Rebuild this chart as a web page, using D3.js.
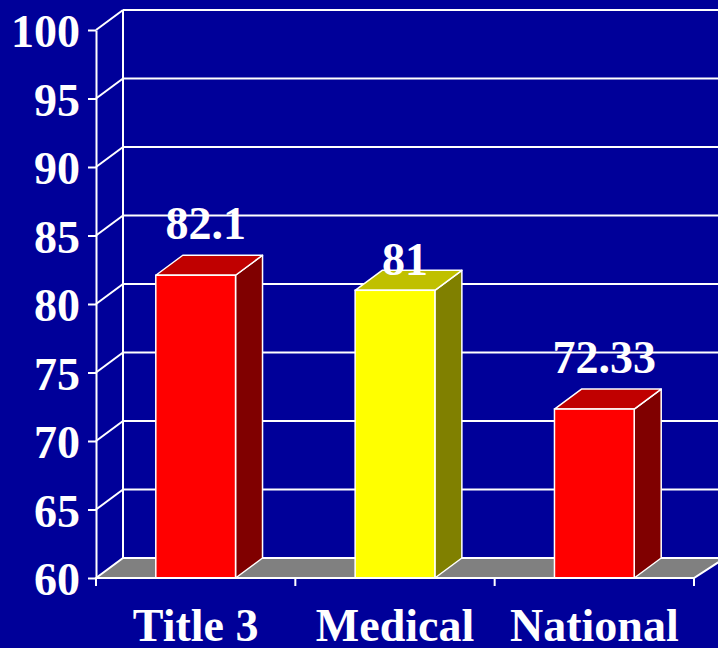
<!DOCTYPE html>
<html>
<head>
<meta charset="utf-8">
<script src="https://d3js.org/d3.v7.min.js"></script>
<style>
  body { margin: 0; background: #000099; }
  svg { display: block; }
</style>
</head>
<body>
<div id="chart"></div>
<script>
// data
var categories = ["Title 3", "Medical", "National"];
var values = [82.1, 81, 72.33];
var valueLabels = ["82.1", "81", "72.33"];
var yTicks = [60, 65, 70, 75, 80, 85, 90, 95, 100];
var barColors = ["#ff0000", "#ffff00", "#ff0000"];
var topColors = ["#c00000", "#c0c000", "#c00000"];
var sideColors = ["#800000", "#808000", "#800000"];

var width = 718,
    height = 648,
    plot = { left: 96, right: 694, top: 30, bottom: 578 },
    depth = { dx: 27, dy: 20 };

var fontFamily = '"Liberation Serif", "Times New Roman", serif';

var svg = d3.select("#chart").append("svg")
    .attr("width", width)
    .attr("height", height);

svg.append("rect")
    .attr("width", width)
    .attr("height", height)
    .attr("fill", "#000099");

// scales
var y = d3.scaleLinear().domain([60, 100]).range([plot.bottom, plot.top]);
var x = d3.scaleBand()
    .domain(categories)
    .range([plot.left, plot.right])
    .paddingInner(0.6)
    .paddingOuter(0.3);

var backRight = plot.right + depth.dx + 4;

// back wall gridlines
svg.append("g").selectAll("line")
    .data(yTicks.slice(1))
    .enter().append("line")
    .attr("x1", plot.left + depth.dx)
    .attr("x2", backRight)
    .attr("y1", d => y(d) - depth.dy)
    .attr("y2", d => y(d) - depth.dy)
    .attr("stroke", "#fff")
    .attr("stroke-width", 2);

// side wall diagonals
svg.append("g").selectAll("line")
    .data(yTicks.slice(1))
    .enter().append("line")
    .attr("x1", plot.left)
    .attr("x2", plot.left + depth.dx)
    .attr("y1", d => y(d))
    .attr("y2", d => y(d) - depth.dy)
    .attr("stroke", "#fff")
    .attr("stroke-width", 2);

// back vertical edge of side wall
svg.append("line")
    .attr("x1", plot.left + depth.dx)
    .attr("x2", plot.left + depth.dx)
    .attr("y1", y(100) - depth.dy)
    .attr("y2", y(60) - depth.dy)
    .attr("stroke", "#fff")
    .attr("stroke-width", 2);

// floor
var y0 = y(60);
svg.append("polygon")
    .attr("points", [
        [plot.left, y0],
        [plot.left + depth.dx, y0 - depth.dy],
        [backRight, y0 - depth.dy],
        [plot.right, y0]
    ].join(" "))
    .attr("fill", "#808080")
    .attr("stroke", "#fff")
    .attr("stroke-width", 2);

// bars
var bars = svg.append("g").selectAll("g")
    .data(values)
    .enter().append("g");

// side face
bars.append("polygon")
    .attr("points", function (d, i) {
        var x1 = x(categories[i]) + x.bandwidth();
        return [[x1, y(d)], [x1 + depth.dx, y(d) - depth.dy],
            [x1 + depth.dx, y0 - depth.dy], [x1, y0]].join(" ");
    })
    .attr("fill", (d, i) => sideColors[i])
    .attr("stroke", "#fff")
    .attr("stroke-width", 1.5)
    .attr("stroke-linejoin", "round");

// top face
bars.append("polygon")
    .attr("points", function (d, i) {
        var x0 = x(categories[i]), x1 = x0 + x.bandwidth();
        return [[x0, y(d)], [x0 + depth.dx, y(d) - depth.dy],
            [x1 + depth.dx, y(d) - depth.dy], [x1, y(d)]].join(" ");
    })
    .attr("fill", (d, i) => topColors[i])
    .attr("stroke", "#fff")
    .attr("stroke-width", 1.5)
    .attr("stroke-linejoin", "round");

// front face
bars.append("rect")
    .attr("x", (d, i) => x(categories[i]))
    .attr("y", d => y(d))
    .attr("width", x.bandwidth())
    .attr("height", d => y0 - y(d))
    .attr("fill", (d, i) => barColors[i])
    .attr("stroke", "#fff")
    .attr("stroke-width", 1.5);

// value labels (the Medical one sits lower in the original)
var labelNudge = { "Medical": 21 };
bars.append("text")
    .attr("x", (d, i) => x(categories[i]) + x.bandwidth() / 2 + 10)
    .attr("y", (d, i) => y(d) - 36 + (labelNudge[categories[i]] || 0))
    .attr("text-anchor", "middle")
    .style("font-family", fontFamily)
    .style("font-weight", "bold")
    .style("font-size", "46px")
    .style("fill", "#fff")
    .text((d, i) => valueLabels[i]);

// y axis
var yAxis = svg.append("g")
    .attr("transform", "translate(" + plot.left + ",0)")
    .call(d3.axisLeft(y).tickValues(yTicks).tickSize(8).tickPadding(8).tickSizeOuter(0));
yAxis.select(".domain").attr("stroke", "#fff").attr("stroke-width", 2);
yAxis.selectAll(".tick line").attr("stroke", "#fff").attr("stroke-width", 2);
yAxis.selectAll(".tick text")
    .attr("fill", "#fff")
    .attr("dy", "0.36em")
    .style("font-family", fontFamily)
    .style("font-weight", "bold")
    .style("font-size", "46px");

// x axis line and separators between categories
svg.append("line")
    .attr("x1", plot.left)
    .attr("x2", plot.right)
    .attr("y1", y0)
    .attr("y2", y0)
    .attr("stroke", "#fff")
    .attr("stroke-width", 2);

var bounds = d3.range(categories.length + 1).map(i => plot.left + i * x.step());
svg.append("g").selectAll("line")
    .data(bounds)
    .enter().append("line")
    .attr("x1", d => d)
    .attr("x2", d => d)
    .attr("y1", y0)
    .attr("y2", y0 + 8)
    .attr("stroke", "#fff")
    .attr("stroke-width", 2);

// category labels
svg.append("g").selectAll("text")
    .data(categories)
    .enter().append("text")
    .attr("x", d => x(d) + x.bandwidth() / 2)
    .attr("y", 641)
    .attr("text-anchor", "middle")
    .style("font-family", fontFamily)
    .style("font-weight", "bold")
    .style("font-size", "46px")
    .style("fill", "#fff")
    .text(d => d);
</script>
</body>
</html>
